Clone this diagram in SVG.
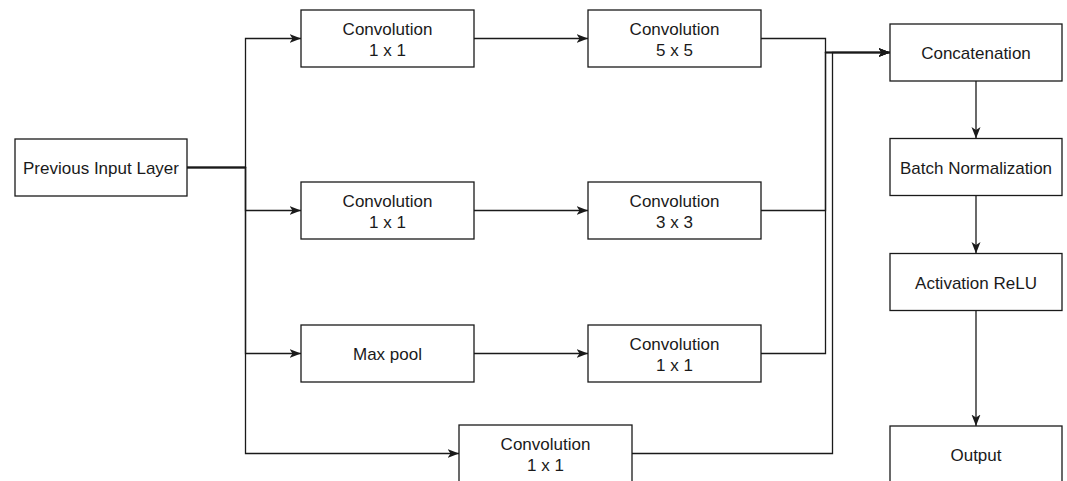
<svg xmlns="http://www.w3.org/2000/svg" width="1067" height="481" viewBox="0 0 1067 481">
<style>
.box{fill:#ffffff;stroke:#1a1a1a;stroke-width:1.3}
.lbl{font-family:"Liberation Sans",Arial,sans-serif;font-size:17px;fill:#1a1a1a;text-anchor:middle}
.edge{fill:none;stroke:#1a1a1a;stroke-width:1.3;marker-end:url(#arr)}
.edge2{fill:none;stroke:#1a1a1a;stroke-width:1.3}
</style>
<defs>
<marker id="arr" markerUnits="userSpaceOnUse" markerWidth="12" markerHeight="10" viewBox="0 0 12 10" refX="11.5" refY="5" orient="auto">
<path d="M0,0.5 L11.5,5 L0,9.5 L3,5 Z" fill="#1a1a1a"/>
</marker>
</defs>
<rect width="1067" height="481" fill="#ffffff"/>
<g id="connectors">
<path class="edge" d="M187,167.5 H245.5 V38.5 H301"/>
<path class="edge" d="M187,167.5 H245.5 V210.5 H301"/>
<path class="edge" d="M187,167.5 H245.5 V353.5 H301"/>
<path class="edge" d="M187,167.5 H245.5 V453.5 H459"/>
<path class="edge" d="M474,38.5 H588"/>
<path class="edge" d="M474,210.5 H588"/>
<path class="edge" d="M474,353.5 H588"/>
<path class="edge" d="M761,38.5 H825.5 V52.5 H890"/>
<path class="edge" d="M761,210.5 H825.5 V52.5 H890"/>
<path class="edge" d="M761,353.5 H825.5 V52.5 H890"/>
<path class="edge" d="M632,453.5 H832.5 V52.5 H890"/>
<path class="edge" d="M976,81 V138.5"/>
<path class="edge" d="M976,195.5 V253.5"/>
<path class="edge" d="M976,310.5 V426"/>
</g>
<g id="prev"><rect class="box" x="15" y="139" width="172" height="57"/><text class="lbl" x="101" y="174">Previous Input Layer</text></g>
<g id="conv1a"><rect class="box" x="301" y="10" width="173" height="57"/><text class="lbl" x="387.5" y="35">Convolution</text><text class="lbl" x="387.5" y="55.5">1 x 1</text></g>
<g id="conv5"><rect class="box" x="588" y="10" width="173" height="57"/><text class="lbl" x="674.5" y="35">Convolution</text><text class="lbl" x="674.5" y="55.5">5 x 5</text></g>
<g id="conv1b"><rect class="box" x="301" y="182" width="173" height="57"/><text class="lbl" x="387.5" y="207">Convolution</text><text class="lbl" x="387.5" y="227.5">1 x 1</text></g>
<g id="conv3"><rect class="box" x="588" y="182" width="173" height="57"/><text class="lbl" x="674.5" y="207">Convolution</text><text class="lbl" x="674.5" y="227.5">3 x 3</text></g>
<g id="maxpool"><rect class="box" x="301" y="325" width="173" height="57"/><text class="lbl" x="387.5" y="360">Max pool</text></g>
<g id="conv1c"><rect class="box" x="588" y="325" width="173" height="57"/><text class="lbl" x="674.5" y="350">Convolution</text><text class="lbl" x="674.5" y="370.5">1 x 1</text></g>
<g id="conv1d"><rect class="box" x="459" y="425" width="173" height="57"/><text class="lbl" x="545.5" y="450">Convolution</text><text class="lbl" x="545.5" y="470.5">1 x 1</text></g>
<g id="concat"><rect class="box" x="890" y="24" width="172" height="57"/><text class="lbl" x="976" y="59">Concatenation</text></g>
<g id="batchnorm"><rect class="box" x="890" y="138.5" width="172" height="57"/><text class="lbl" x="976" y="173.5">Batch Normalization</text></g>
<g id="relu"><rect class="box" x="890" y="253.5" width="172" height="57"/><text class="lbl" x="976" y="288.5">Activation ReLU</text></g>
<g id="output"><rect class="box" x="890" y="426" width="172" height="57"/><text class="lbl" x="976" y="461">Output</text></g>
</svg>
